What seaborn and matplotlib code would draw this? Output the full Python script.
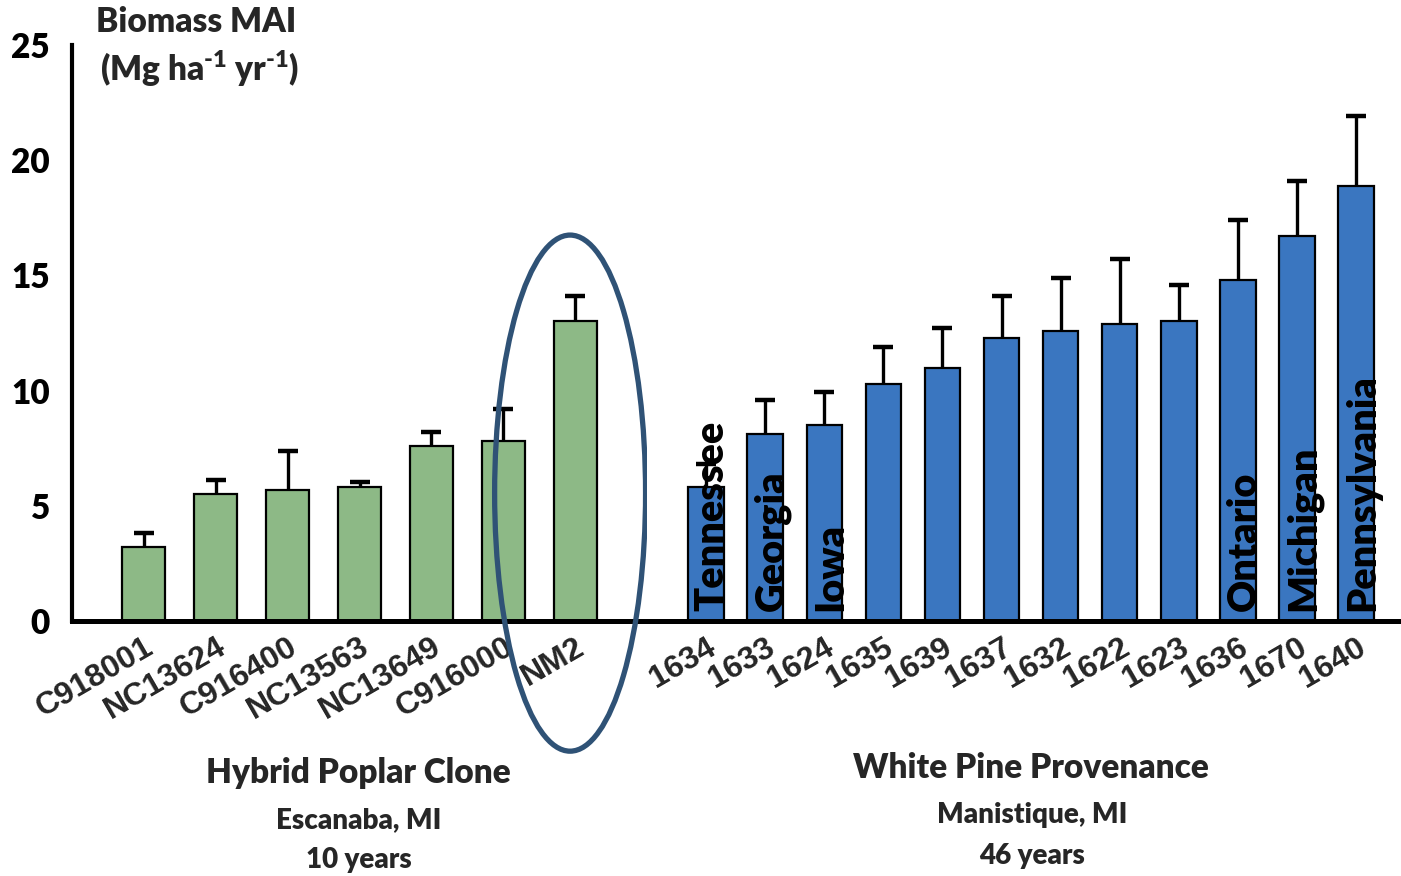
import matplotlib
matplotlib.use("Agg")
import matplotlib.pyplot as plt
from matplotlib.patches import Ellipse
import pandas as pd
import seaborn as sns

# Hybrid poplar clones (Escanaba, MI, 10 years)
clones = ["C918001", "NC13624", "C916400", "NC13563", "NC13649", "C916000", "NM2"]
clone_mai = [3.2, 5.5, 5.7, 5.8, 7.6, 7.8, 13.0]
clone_err = [0.6, 0.6, 1.7, 0.25, 0.6, 1.4, 1.1]

# White pine provenances (Manistique, MI, 46 years)
provenances = ["1634", "1633", "1624", "1635", "1639", "1637",
               "1632", "1622", "1623", "1636", "1670", "1640"]
provenance_mai = [5.8, 8.1, 8.5, 10.3, 11.0, 12.3, 12.6, 12.9, 13.0, 14.8, 16.7, 18.9]
provenance_err = [1.0, 1.5, 1.45, 1.6, 1.7, 1.8, 2.3, 2.8, 1.6, 2.6, 2.4, 3.0]
provenance_origin = ["Tennessee", "Georgia", "Iowa", "", "", "", "",
                     "", "", "Ontario", "Michigan", "Pennsylvania"]

y_ticks = [0, 5, 10, 15, 20, 25]
highlight = "NM2"

GREEN = "#8DB986"
BLUE = "#3A76C0"
RING = "#2F5276"
WEIGHT = "heavy"

sns.set_theme(style="white")
plt.rcParams["font.family"] = ["Lato", "DejaVu Sans"]
plt.rcParams["font.weight"] = WEIGHT
plt.rcParams["mathtext.fontset"] = "custom"
plt.rcParams["mathtext.rm"] = "Lato:heavy"
plt.rcParams["mathtext.it"] = "Lato:heavy"
plt.rcParams["mathtext.bf"] = "Lato:heavy"

W, H = 1401, 876
fig = plt.figure(figsize=(W / 100, H / 100), dpi=100)
fig.patch.set_facecolor("white")
ax1 = fig.add_axes([72 / W, (H - 621) / H, 575 / W, 576 / H])
ax2 = fig.add_axes([647 / W, (H - 621) / H, 754 / W, 576 / H])

panels = [
    (ax1, clones, clone_mai, clone_err, GREEN, (-1, 7)),
    (ax2, provenances, provenance_mai, provenance_err, BLUE, (-1, 11.76)),
]

for ax, cats, vals, errs, col, xlim in panels:
    df = pd.DataFrame({"cat": cats, "mai": vals})
    sns.barplot(data=df, x="cat", y="mai", color=col, saturation=1, width=0.6,
                edgecolor="black", linewidth=1.6, errorbar=None, ax=ax)
    eb = ax.errorbar(range(len(cats)), vals, yerr=[[0] * len(errs), errs],
                     fmt="none", ecolor="black", elinewidth=2.4, capsize=7,
                     capthick=3.2, zorder=3)
    eb[1][0].set_visible(False)  # only the upper cap is shown
    ax.set_xlim(*xlim)
    ax.set_ylim(0, 25)
    ax.set_xlabel("")
    ax.set_ylabel("")
    ax.set_facecolor("white")
    for side in ("top", "right", "left"):
        ax.spines[side].set_visible(False)
    ax.spines["bottom"].set_linewidth(3.6)
    ax.spines["bottom"].set_color("black")
    ax.tick_params(axis="x", length=0, pad=8)
    ax.set_xticks(range(len(cats)))
    ax.set_xticklabels(cats)
    for lbl in ax.get_xticklabels():
        lbl.set(rotation=30, ha="right", rotation_mode="anchor",
                fontfamily="Liberation Sans", fontweight="bold", fontsize=23)

ax1.spines["left"].set_visible(True)
ax1.spines["left"].set_linewidth(3)
ax1.spines["left"].set_color("black")
ax1.set_yticks(y_ticks)
ax1.tick_params(axis="y", direction="in", length=7, width=3, pad=16,
                labelsize=24, colors="black")
ax2.set_yticks([])

# Origin names written up the provenance bars
for i, name in enumerate(provenance_origin):
    if name:
        ax2.text(i + 0.3, 0.45, name, rotation=90, rotation_mode="anchor",
                 ha="left", va="baseline", fontsize=28.5, fontweight=WEIGHT,
                 color="black", zorder=4)

# Ring around the highlighted clone
hi = clones.index(highlight)
ax1.add_patch(Ellipse((hi - 0.07, 5.55), width=2.1, height=22.4,
                      transform=ax1.transData, fill=False, edgecolor=RING,
                      linewidth=3.8, clip_on=False, zorder=6))

# Axis title
fig.text(196 / W, 1 - 22 / H, "Biomass MAI", ha="center", va="center",
         fontsize=24, fontweight=WEIGHT)
fig.text(200 / W, 1 - 69 / H, r"(Mg ha$^{\text{-1}}$ yr$^{\text{-1}}$)",
         ha="center", va="center", fontsize=24, fontweight=WEIGHT)

# Group captions
fig.text(358 / W, 1 - 773 / H, "Hybrid Poplar Clone", ha="center", va="center",
         fontsize=24, fontweight=WEIGHT)
fig.text(359 / W, 1 - 820 / H, "Escanaba, MI", ha="center", va="center",
         fontsize=20, fontweight=WEIGHT)
fig.text(359 / W, 1 - 860 / H, "10 years", ha="center", va="center",
         fontsize=20, fontweight=WEIGHT)
fig.text(1031 / W, 1 - 768 / H, "White Pine Provenance", ha="center", va="center",
         fontsize=24, fontweight=WEIGHT)
fig.text(1032 / W, 1 - 815 / H, "Manistique, MI", ha="center", va="center",
         fontsize=20, fontweight=WEIGHT)
fig.text(1032 / W, 1 - 856 / H, "46 years", ha="center", va="center",
         fontsize=20, fontweight=WEIGHT)

fig.savefig("out.png", dpi=100)
